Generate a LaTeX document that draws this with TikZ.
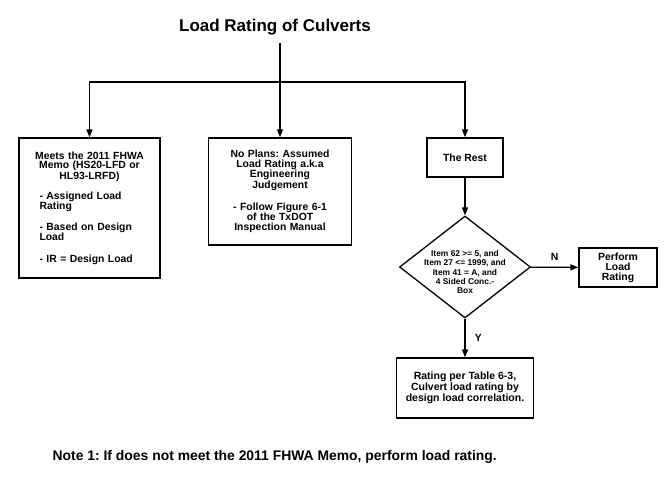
\documentclass[tikz,border=0pt]{standalone}
\usepackage{fontspec}
\setmainfont{Liberation Sans}
\usepackage{tikz}
\usetikzlibrary{arrows.meta}
\usetikzlibrary{shapes.geometric}
\frenchspacing

\begin{document}
\begin{tikzpicture}[x=1pt, y=-1pt, line width=1.3pt, box/.style={draw, rectangle, inner xsep=10pt, inner ysep=0pt, font=\bfseries\fontsize{10.4}{10}\selectfont}, decision/.style={draw, diamond, inner sep=0pt, minimum width=131pt, minimum height=102pt}, arrow/.style={-{Triangle[length=8pt, width=6pt]}}]
		\useasboundingbox (0,0) rectangle (669,478);
		\node[font=\bfseries\fontsize{17}{20}\selectfont] (title) at (275,27) {Load Rating of Culverts};
		\coordinate (top) at (280,43);
		\coordinate (split) at (280,82);
		% the three cases
		\node[box, text width=121pt, minimum height=140pt] (memo) at (89.5,208) {{\centering\fontsize{10.4}{9.2}\selectfont Meets the 2011 FHWA\\Memo (HS20-LFD or\\HL93-LRFD)\par}\vskip10pt{\raggedright\leftskip=10.5pt - Assigned Load\\Rating\par\vskip11.5pt - Based on Design\\Load\par\vskip11.5pt - IR = Design Load\par}};
		\node[box, text width=123pt, minimum height=107pt] (plans) at (280,191.5) {{\centering\fontsize{10.4}{9.2}\selectfont No Plans: Assumed\\Load Rating a.k.a\\Engineering\\Judgement\par}\vskip12pt{\centering - Follow Figure 6-1\\of the TxDOT\\Inspection Manual\par}};
		\node[box, minimum width=76pt, minimum height=39pt] (rest) at (465,157.5) {The Rest};
		% decision
		\node[decision] (check) at (465,267) {};
		\node[font=\bfseries\fontsize{8.4}{9.3}\selectfont, align=center] (checktext) at (465,272) {Item 62 >= 5, and\\Item 27 <= 1999, and\\Item 41 = A, and\\4 Sided Conc.-\\Box};
		\node[box, inner xsep=0pt, minimum width=78pt, minimum height=39pt, align=center] (perform) at (618,267.5) {Perform\\Load\\Rating};
		\node[box, inner xsep=0pt, minimum width=137pt, minimum height=60pt, align=center, font=\bfseries\fontsize{10.5}{11}\selectfont] (table) at (465,388) {Rating per Table 6-3,\\Culvert load rating by\\design load correlation.};
		\node[anchor=west, inner sep=0pt, font=\bfseries\fontsize{13.9}{16}\selectfont] (note) at (52,457) {Note 1: If does not meet the 2011 FHWA Memo, perform load rating.};
		% connectors
		\draw (top) -- (split);
		\draw[arrow] (split) -- (plans);
		\draw[arrow] (split) -| (memo);
		\draw[arrow] (split) -| (rest);
		\draw[arrow] (rest) -- (check);
		\draw[arrow] (check) -- node[above=3pt, font=\bfseries\fontsize{10.4}{10}\selectfont] {N} (perform);
		\draw[arrow] (check) -- node[right=6pt, font=\bfseries\fontsize{10.4}{10}\selectfont] {Y} (table);
	\end{tikzpicture}
\end{document}
